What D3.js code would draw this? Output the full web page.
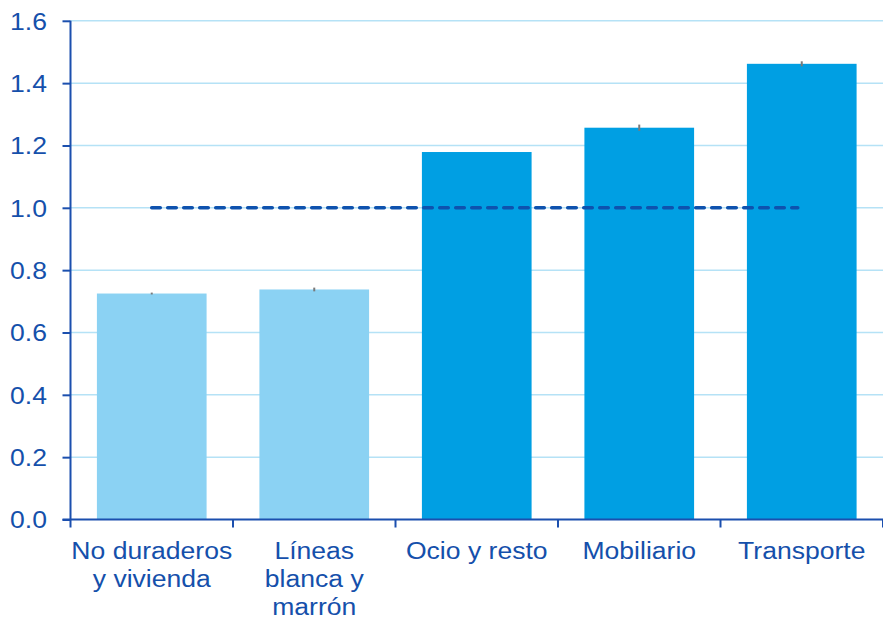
<!DOCTYPE html>
<html><head><meta charset="utf-8">
<script src="https://cdn.jsdelivr.net/npm/d3@7"></script>
<style>body{margin:0;background:#fff}svg{display:block}text{font-family:"Liberation Sans",Arial,sans-serif}</style>
</head><body>
<svg id="c" width="883" height="624"></svg>
<script>
const categories = [["No duraderos","y vivienda"],["Líneas","blanca y","marrón"],["Ocio y resto"],["Mobiliario"],["Transporte"]];
const values = [0.725, 0.738, 1.179, 1.257, 1.462];
const errors = [0.003, 0.006, 0.0, 0.01, 0.008];
const groups = ["light","light","dark","dark","dark"];
const yTicks = [0,0.2,0.4,0.6,0.8,1.0,1.2,1.4,1.6];
const refValue = 1.0;

const colors = {light:"#8BD2F3", dark:"#009FE3"};
const axisColor = "#1B4FAE", textColor = "#1550AB", gridColor = "#B5E2F6";
const fs = 23.5, sx = 1.13;
const svg = d3.select("#c");
const m = {l:70.5, r:883, t:20.8, b:519.5};
const ids = categories.map((d,i)=>i);
const x = d3.scaleBand().domain(ids).range([m.l, m.r]).paddingInner(0.325).paddingOuter(0.1625);
const xb = d3.scaleBand().domain(ids).range([m.l, m.r]);
const y = d3.scaleLinear().domain([0,1.6]).range([m.b, m.t]);

// grid
svg.append("g").selectAll("line").data(yTicks.filter(t=>t>0)).join("line")
  .attr("x1", m.l).attr("x2", m.r).attr("y1", d=>y(d)).attr("y2", d=>y(d))
  .attr("stroke", gridColor).attr("stroke-width", 1.5);

// bars
svg.append("g").selectAll("rect").data(values).join("rect")
  .attr("x",(d,i)=>x(i)).attr("width", x.bandwidth())
  .attr("y", d=>y(d)).attr("height", d=>y(0)-y(d))
  .attr("fill",(d,i)=>colors[groups[i]]);

// error marks
svg.append("g").selectAll("line").data(values).join("line")
  .attr("x1",(d,i)=>x(i)+x.bandwidth()/2).attr("x2",(d,i)=>x(i)+x.bandwidth()/2)
  .attr("y1",(d,i)=>y(d+errors[i])).attr("y2",(d,i)=>y(d-errors[i]))
  .attr("stroke","#7a7a7a").attr("stroke-width",2);

// reference dashed line
svg.append("line")
  .attr("x1", xb(0)+xb.bandwidth()/2).attr("x2", xb(4)+xb.bandwidth()/2 - 4)
  .attr("y1", y(refValue)).attr("y2", y(refValue))
  .attr("stroke","#0E52AE").attr("stroke-width",3.6)
  .attr("stroke-dasharray","8.5,7.5").attr("stroke-linecap","round");

// y axis
const ya = svg.append("g").attr("transform",`translate(${m.l},0)`)
  .call(d3.axisLeft(y).tickValues(yTicks).tickFormat(d3.format(".1f")).tickSize(8));
ya.select(".domain").attr("stroke",axisColor).attr("stroke-width",2).attr("d",`M0,${m.t}V${m.b}`);
ya.selectAll(".tick line").attr("stroke",axisColor).attr("stroke-width",2);
ya.selectAll(".tick text").attr("fill",textColor).attr("font-size",fs)
  .attr("font-family","Liberation Sans, Arial, sans-serif")
  .attr("x",0).attr("dy","0.36em").attr("text-anchor","end")
  .attr("transform",`translate(-23.5,0) scale(${sx},1)`);

// x axis
const xa = svg.append("g").attr("transform",`translate(0,${m.b})`);
xa.append("line").attr("x1",m.l-8).attr("x2",m.r).attr("y1",0).attr("y2",0)
  .attr("stroke",axisColor).attr("stroke-width",2);
const bounds = ids.map(i=>xb(i)).concat([m.r]);
xa.selectAll("line.tk").data(bounds).join("line").attr("class","tk")
  .attr("x1",d=>d).attr("x2",d=>d).attr("y1",0).attr("y2",8)
  .attr("stroke",axisColor).attr("stroke-width",2);
const lbl = xa.selectAll("text").data(categories).join("text")
  .attr("text-anchor","middle").attr("fill",textColor).attr("font-size",fs)
  .attr("transform",(d,i)=>`translate(${xb(i)+xb.bandwidth()/2},0) scale(${sx},1)`);
lbl.selectAll("tspan").data(d=>d).join("tspan")
  .attr("x",0).attr("y",(d,j)=>39.5+j*28).text(d=>d);
</script>
</body></html>
